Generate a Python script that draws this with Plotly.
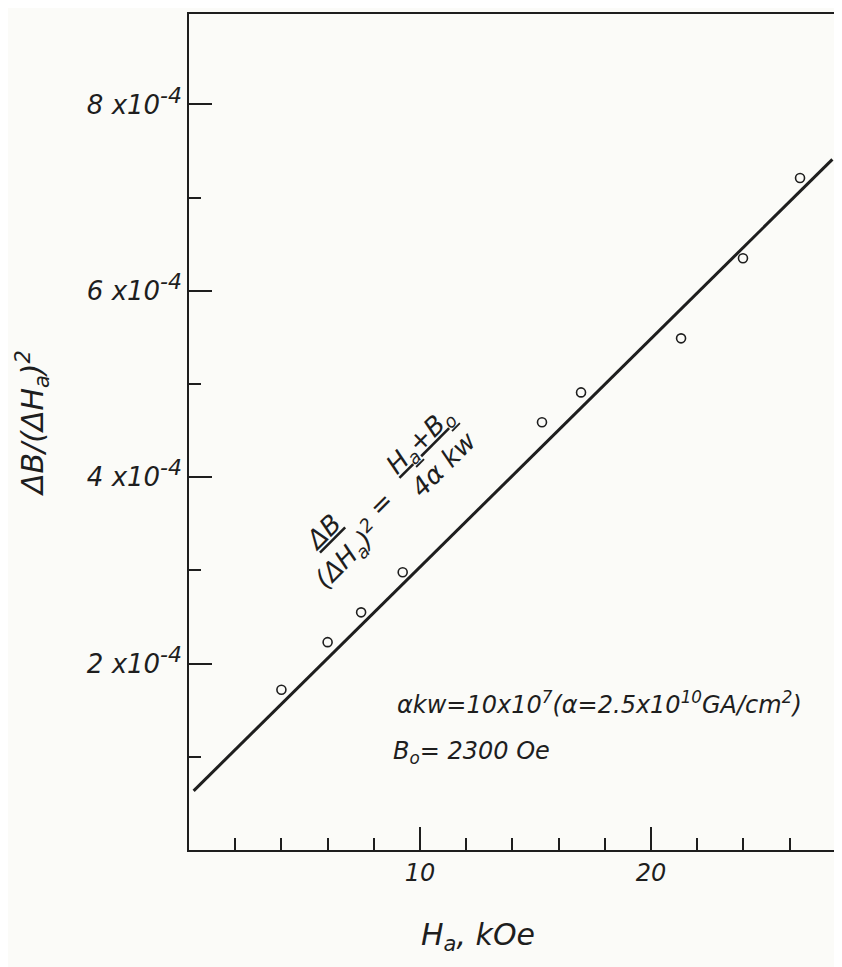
import plotly.graph_objects as go

# ---- data ----
ha_kOe = [4.0, 6.0, 7.45, 9.25, 15.28, 16.97, 21.30, 23.98, 26.45]
ratio = [1.72e-4, 2.23e-4, 2.55e-4, 2.98e-4, 4.59e-4, 4.91e-4, 5.49e-4, 6.35e-4, 7.21e-4]

fit_x = [0.2, 27.85]
fit_y = [0.635e-4, 7.41e-4]

x_tick_vals = [10, 20]
x_tick_text = ["10", "20"]
x_minor_vals = [2, 4, 6, 8, 12, 14, 16, 18, 22, 24, 26]
y_tick_vals = [2e-4, 4e-4, 6e-4, 8e-4]
y_tick_text = ["%d x10<sup><span style='font-size:22px'>-4</span></sup>" % m for m in (2, 4, 6, 8)]
y_minor_vals = [1e-4, 3e-4, 5e-4, 7e-4]

INK = "#1e1e1e"
FONT = "DejaVu Sans"
BG = "#fbfbf8"

fig = go.Figure()
fig.add_trace(go.Scatter(x=fit_x, y=fit_y, mode="lines",
                         line=dict(color=INK, width=3), showlegend=False))
fig.add_trace(go.Scatter(x=ha_kOe, y=ratio, mode="markers",
                         marker=dict(symbol="circle-open", size=9, color=INK,
                                     line=dict(width=1.6, color=INK)),
                         showlegend=False))

axis_common = dict(showline=True, linecolor=INK, linewidth=1.5, mirror=True,
                   showgrid=False, zeroline=False, ticks="inside", ticklen=23,
                   tickwidth=1.5, tickcolor=INK)

fig.update_xaxes(range=[0, 28.05], tickmode="array", tickvals=x_tick_vals,
                 ticktext=x_tick_text,
                 tickfont=dict(family=FONT, size=24, color=INK, style="italic"),
                 minor=dict(tickmode="array", tickvals=x_minor_vals, ticks="inside",
                            ticklen=12, tickwidth=1.5, tickcolor=INK),
                 **axis_common)
fig.update_yaxes(range=[0, 8.97e-4], tickmode="array", tickvals=y_tick_vals,
                 ticktext=y_tick_text, ticklabelstandoff=0,
                 tickfont=dict(family=FONT, size=26, color=INK, style="italic"),
                 minor=dict(tickmode="array", tickvals=y_minor_vals, ticks="inside",
                            ticklen=12, tickwidth=1.5, tickcolor=INK),
                 **axis_common)

tfont = dict(family=FONT, size=24, color=INK, style="italic")
ffont = dict(family=FONT, size=26, color=INK, style="italic")
title_font = dict(family=FONT, size=30, color=INK, style="italic")

def px(xp):
    return (xp - 189) / 648

def py(yp):
    return (850 - yp) / 838

ann = [
    # axis titles
    dict(text="H<sub>a</sub>, kOe", x=px(478), y=py(937), font=title_font),
    dict(text="ΔB/(ΔH<sub>a</sub>)<sup>2</sup>", x=px(32), y=py(422),
         textangle=-90, font=title_font),
    # formula along the fitted line
    dict(text="<u>ΔB</u><br>(ΔH<sub>a</sub>)<sup>2</sup>", x=px(337), y=py(544),
         textangle=-45, font=ffont),
    dict(text="=", x=px(381), y=py(503), textangle=-45, font=ffont),
    dict(text="<u>H<sub>a</sub>+B<sub>o</sub></u><br>4α kw", x=px(431), y=py(452),
         textangle=-45, font=ffont),
]
for a in ann:
    a.update(xref="paper", yref="paper", showarrow=False, xanchor="center", yanchor="middle")

ann += [
    dict(text="αkw=10x10<sup>7</sup>(α=2.5x10<sup>10</sup>GA/cm<sup>2</sup>)",
         xref="paper", yref="paper", x=px(395), y=py(703), showarrow=False,
         xanchor="left", yanchor="middle", font=tfont),
    dict(text="B<sub>o</sub>= 2300 Oe", xref="paper", yref="paper",
         x=px(391), y=py(752), showarrow=False,
         xanchor="left", yanchor="middle", font=tfont),
]

# page body adds an 8px offset; margins compensate so the plot frame sits at
# x 189..837, y 12..850 in the screenshot
fig.update_layout(width=842, height=967,
                  margin=dict(l=181, r=13, t=4, b=125),
                  paper_bgcolor=BG, plot_bgcolor=BG,
                  annotations=ann, showlegend=False,
                  font=dict(family=FONT, color=INK))

fig.write_html("out.html")
